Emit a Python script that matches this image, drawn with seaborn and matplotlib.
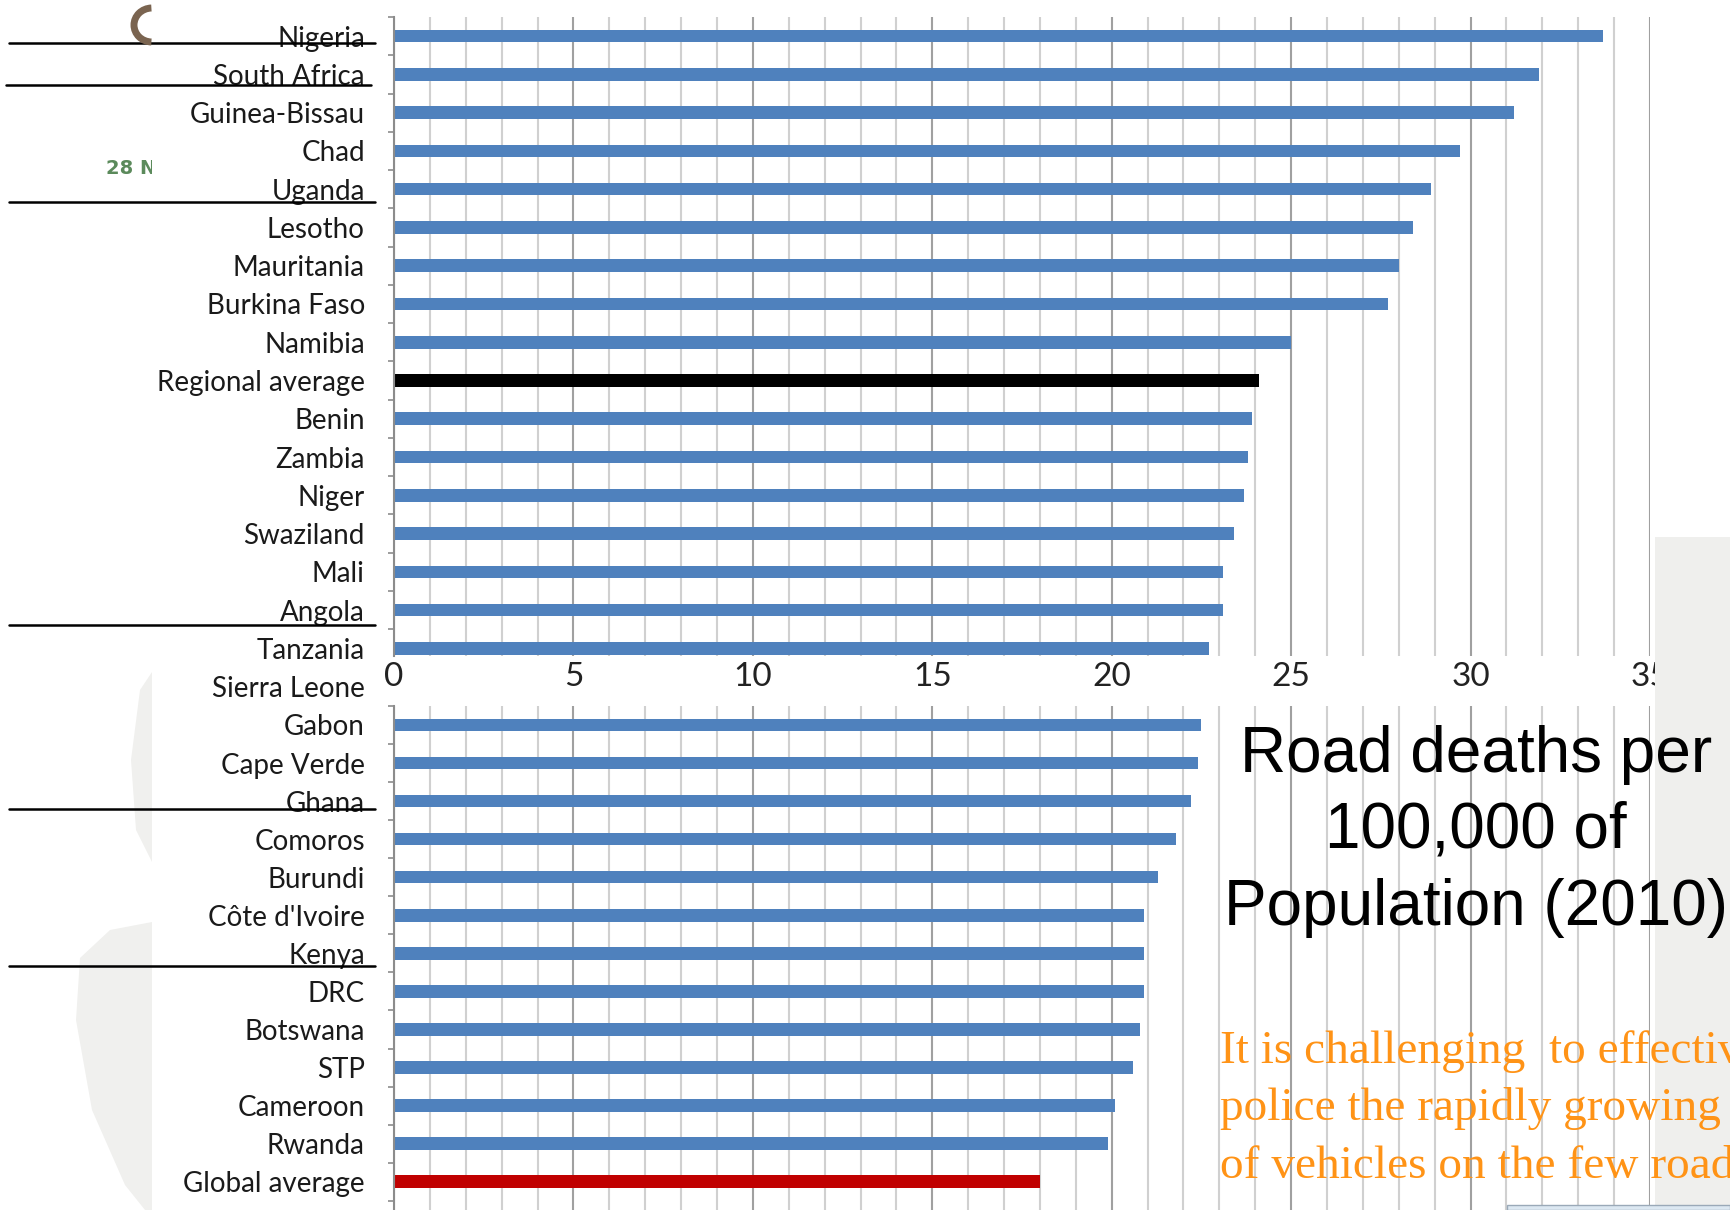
import matplotlib
matplotlib.use("Agg")
import matplotlib.pyplot as plt
import matplotlib.transforms as mtransforms
from matplotlib.patches import Rectangle, Arc, Polygon
from matplotlib.lines import Line2D
from matplotlib.transforms import Bbox
from matplotlib.ticker import MultipleLocator, FixedLocator
import seaborn as sns
import pandas as pd

# ---------------- data ----------------
top_countries = ["Nigeria", "South Africa", "Guinea-Bissau", "Chad", "Uganda",
                 "Lesotho", "Mauritania", "Burkina Faso", "Namibia",
                 "Regional average", "Benin", "Zambia", "Niger", "Swaziland",
                 "Mali", "Angola", "Tanzania"]
top_values = [33.7, 31.9, 31.2, 29.7, 28.9, 28.4, 28.0, 27.7, 25.0,
              24.1, 23.9, 23.8, 23.7, 23.4, 23.1, 23.1, 22.7]

hidden_label = "Sierra Leone"   # its bar is hidden behind the upper chart's axis labels

bottom_countries = ["Gabon", "Cape Verde", "Ghana", "Comoros", "Burundi",
                    "Côte d'Ivoire", "Kenya", "DRC", "Botswana", "STP",
                    "Cameroon", "Rwanda", "Global average"]
bottom_values = [22.5, 22.4, 22.2, 21.8, 21.3, 20.9, 20.9, 20.9, 20.8, 20.6,
                 20.1, 19.9, 18.0]

x_ticks = [0, 5, 10, 15, 20, 25, 30, 35]

title_lines = ["Road deaths per", "100,000 of", "Population (2010)"]
note_lines = ["It is challenging  to effectively",
              "police the rapidly growing",
              "of vehicles on the few roads"]
side_mark = "28 N"

underlined = {"Nigeria": 0.17, "South Africa": 0.29, "Uganda": 0.33,
              "Angola": 0.38, "Ghana": 0.20, "Kenya": 0.34}

# ---------------- style ----------------
BLUE = "#4F81BD"
highlight = {"Regional average": "#000000", "Global average": "#C00000"}
W, H = 1730, 1210
LABEL_SIZE = 20

sns.set_theme(style="white")
plt.rcParams['font.family'] = ['Lato', 'DejaVu Sans']

fig = plt.figure(figsize=(W / 100, H / 100), dpi=100)
fig.patch.set_facecolor("white")


def px_rect(x0, y0, x1, y1):
    return [x0 / W, 1 - y1 / H, (x1 - x0) / W, (y1 - y0) / H]


def fx(x):
    return x / W


def fy(y):
    return 1 - y / H


# faint background decorations (behind)
for poly in ([(152, 672), (140, 690), (131, 760), (136, 830), (152, 862)],
             [(152, 922), (110, 930), (80, 958), (76, 1020), (92, 1110),
              (125, 1185), (145, 1210), (152, 1210)]):
    fig.add_artist(Polygon([(fx(x), fy(y)) for x, y in poly], closed=True,
                           transform=fig.transFigure, facecolor="#f0f0ee",
                           edgecolor="none", zorder=-1))

ax_top = fig.add_axes(px_rect(394, 17, 1650, 656))
ax_bot = fig.add_axes(px_rect(394, 705.9, 1650, 705.9 + 14 * 38.07))
for a in (ax_top, ax_bot):
    a.patch.set_alpha(0)


def draw(ax, cats, vals, ylim):
    df = pd.DataFrame({"country": cats, "value": vals})
    pal = {c: highlight.get(c, BLUE) for c in cats}
    sns.barplot(data=df, x="value", y="country", hue="country", palette=pal,
                legend=False, orient="h", width=0.33, linewidth=0,
                saturation=1, ax=ax)
    ax.set_xlim(0, 35)
    ax.set_ylim(*ylim)
    ax.xaxis.set_major_locator(FixedLocator(x_ticks))
    ax.xaxis.set_minor_locator(MultipleLocator(1))
    ax.set_axisbelow(True)
    ax.grid(which="minor", axis="x", color="#d0d0d0", lw=1.5)
    ax.grid(which="major", axis="x", color="#a0a0a0", lw=1.5)
    ax.grid(which="both", axis="y", visible=False)
    for s in ["top", "right", "bottom"]:
        ax.spines[s].set_visible(False)
    ax.spines["left"].set_color("#8c8c8c")
    ax.spines["left"].set_linewidth(1.5)
    ax.set_yticks(range(len(cats)))
    ax.set_yticklabels(cats)
    ax.yaxis.set_minor_locator(FixedLocator([i - 0.5 for i in range(len(cats) + 1)]))
    ax.tick_params(axis="y", which="major", length=0, pad=21,
                   labelsize=LABEL_SIZE, labelcolor="#1a1a1a", left=False)
    ax.tick_params(axis="y", which="minor", length=4, width=1.2,
                   color="#8c8c8c", direction="out", left=True)
    ax.tick_params(axis="x", which="both", length=0, bottom=False)
    ax.set_xlabel("")
    ax.set_ylabel("")


draw(ax_top, top_countries, top_values, (16.2, -0.5))
draw(ax_bot, bottom_countries, bottom_values, (13.5, -0.5))
ax_top.tick_params(axis="x", labelsize=24, pad=4, labelcolor="#222222",
                   labelbottom=True)
ax_bot.tick_params(axis="x", labelbottom=False)

# label of the row hidden between the two charts
lab_tr = mtransforms.offset_copy(ax_bot.get_yaxis_transform(), fig=fig,
                                 x=-29, y=0, units="dots")
ax_bot.text(0, -1, hidden_label, transform=lab_tr, ha="right",
            va="center_baseline", fontsize=LABEL_SIZE, color="#1a1a1a",
            clip_on=False)

# underline strokes across the label column
for ax, cats in ((ax_top, top_countries), (ax_bot, bottom_countries)):
    tr = mtransforms.blended_transform_factory(fig.transFigure, ax.transData)
    for name, off in underlined.items():
        if name in cats:
            y = cats.index(name) + off
            x0 = 6 if name == "South Africa" else 9
            x1 = 371 if name == "South Africa" else 375
            fig.add_artist(Line2D([fx(x0), fx(x1)], [y, y], transform=tr,
                                  color="black", lw=1.8, zorder=3))

# textured strip at the right edge
fig.add_artist(Rectangle((fx(1655), 0), 1 - fx(1655), fy(537),
                         transform=fig.transFigure, facecolor="#efefed",
                         edgecolor="none", zorder=1))
# light-blue box edge at the bottom right
fig.add_artist(Rectangle((fx(1507), 0), 1 - fx(1507), (H - 1205) / H,
                         transform=fig.transFigure, facecolor="#dce8f2",
                         edgecolor="#9aa9b8", lw=1, zorder=2))

# logo fragment and side mark
fig.add_artist(Arc((1.52, (H - 25) / 100), 0.36, 0.34, theta1=92, theta2=268,
                   transform=fig.dpi_scale_trans, color="#7a6450", lw=5,
                   zorder=3))
t = fig.text(fx(106), fy(169), side_mark, fontsize=14, color="#5b8a5b",
             ha="left", va="center", family=["DejaVu Sans"], weight="bold")
t.set_clip_box(Bbox.from_extents(0, 0, 152, H))
t.set_clip_on(True)

# title
for line, yb in zip(title_lines, [771.6, 847.0, 924.7]):
    fig.text(fx(1476), fy(yb), line, ha="center", va="baseline", fontsize=46,
             family=["Liberation Sans", "DejaVu Sans"], color="black", zorder=5)

# orange note (runs past the slide edge, as in the source)
for line, yb in zip(note_lines, [1063.0, 1120.5, 1178.0]):
    fig.text(fx(1220), fy(yb), line, ha="left", va="baseline", fontsize=34,
             family=["Liberation Serif", "DejaVu Serif"], color="#FF9316",
             zorder=5)

fig.savefig("out.png", dpi=100)
